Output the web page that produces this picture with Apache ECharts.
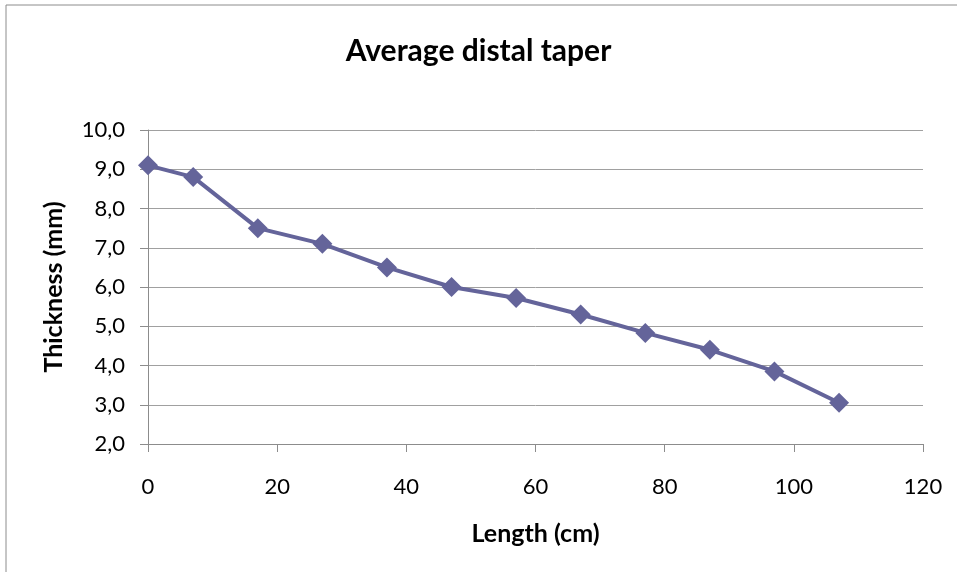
<!DOCTYPE html>
<html>
<head>
<meta charset="utf-8">
<script src="https://cdn.jsdelivr.net/npm/echarts@6/dist/echarts.min.js"></script>
<style>
  html, body { margin: 0; padding: 0; background: #fff; }
  #chart { width: 957px; height: 572px; }
</style>
</head>
<body>
<div id="chart"></div>
<script>
  // length along the blade (cm) and average thickness (mm)
  var lengths = [0, 7, 17, 27, 37, 47, 57, 67, 77, 87, 97, 107]
  var thickness = [9.1, 8.8, 7.5, 7.1, 6.5, 6.0, 5.72, 5.3, 4.83, 4.4, 3.85, 3.05]

  var font = 'Lato'
  var lineColor = '#64649a'

  var chart = echarts.init(document.getElementById('chart'))
  chart.setOption({
    animation: false,
    title: {
      text: 'Average distal taper',
      left: 'center',
      top: 31,
      textStyle: {
        fontFamily: font,
        fontSize: 30,
        fontWeight: 'bold',
        color: '#000'
      }
    },
    graphic: [{
      type: 'rect',
      shape: { x: 6, y: 5, width: 1000, height: 1000 },
      style: { fill: 'none', stroke: '#8c8c8c', lineWidth: 1 },
      z: -1
    }],
    grid: {
      left: 148,
      right: 34,
      top: 130,
      bottom: 128
    },
    xAxis: {
      type: 'value',
      min: 0,
      max: 120,
      interval: 20,
      name: 'Length (cm)',
      nameLocation: 'middle',
      nameGap: 77,
      nameTextStyle: {
        fontFamily: font,
        fontSize: 25,
        fontWeight: 'bold',
        color: '#000'
      },
      axisLine: { lineStyle: { color: '#8c8c8c', width: 1 } },
      axisTick: { show: true, inside: false, length: 8, lineStyle: { color: '#8c8c8c' } },
      axisLabel: {
        margin: 32,
        fontFamily: font,
        fontSize: 22,
        color: '#000'
      },
      splitLine: { show: false }
    },
    yAxis: {
      type: 'value',
      min: 2,
      max: 10,
      interval: 1,
      name: 'Thickness (mm)',
      nameLocation: 'middle',
      nameRotate: 90,
      nameGap: 82,
      nameTextStyle: {
        fontFamily: font,
        fontSize: 25,
        fontWeight: 'bold',
        color: '#000'
      },
      axisLine: { show: true, lineStyle: { color: '#8c8c8c', width: 1 } },
      axisTick: { show: true, inside: false, length: 8, lineStyle: { color: '#8c8c8c' } },
      axisLabel: {
        margin: 23,
        fontFamily: font,
        fontSize: 22,
        color: '#000',
        formatter: function (value) {
          return value.toFixed(1).replace('.', ',')
        }
      },
      splitLine: { show: true, lineStyle: { color: '#a0a0a0', width: 1 } }
    },
    series: [{
      type: 'line',
      data: lengths.map(function (x, i) { return [x, thickness[i]] }),
      symbol: 'diamond',
      symbolSize: 20,
      lineStyle: { color: lineColor, width: 4 },
      itemStyle: { color: lineColor, borderWidth: 0 }
    }]
  })
</script>
</body>
</html>
